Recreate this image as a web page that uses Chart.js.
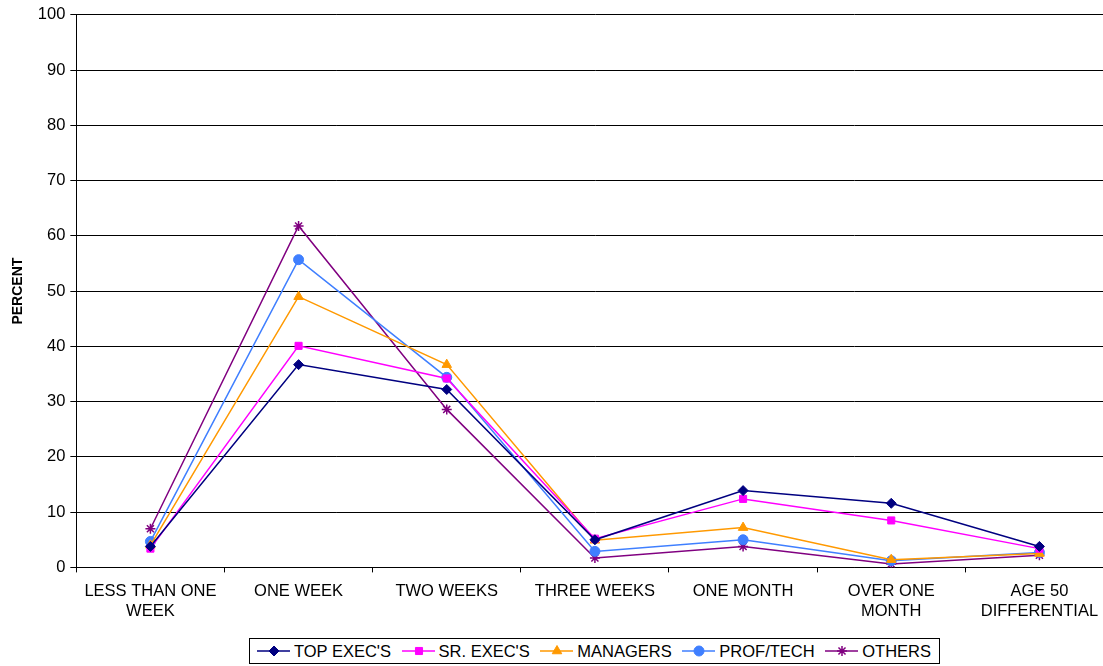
<!DOCTYPE html>
<html><head><meta charset="utf-8">
<script src="https://cdn.jsdelivr.net/npm/chart.js@4/dist/chart.umd.min.js"></script>
<style>
html,body{margin:0;padding:0;background:#fff;overflow:hidden;width:1103px;height:666px;}
#wrap{position:absolute;left:0;top:0;width:1120px;height:666px;}
#legend{position:absolute;left:249px;top:638px;width:674px;height:24px;padding:0 8px 0 7px;border:1px solid #000;background:#fff;
display:flex;align-items:center;justify-content:space-between;font-family:"Liberation Sans",Arial,sans-serif;font-size:16.5px;color:#000;}
.item{display:flex;align-items:center;}
.item canvas{margin-right:3px;}
</style></head><body>
<div id="wrap"><canvas id="c" width="1120" height="666"></canvas></div>
<div id="legend"></div>
<script>
const categories = [["LESS THAN ONE","WEEK"],"ONE WEEK","TWO WEEKS","THREE WEEKS","ONE MONTH",["OVER ONE","MONTH"],["AGE 50","DIFFERENTIAL"]];
const seriesNames = ["TOP EXEC'S","SR. EXEC'S","MANAGERS","PROF/TECH","OTHERS"];
const topExec  = [3.8, 36.7, 32.2, 5.0, 13.9, 11.6, 3.8];
const srExec   = [3.4, 40.1, 34.2, 5.2, 12.4, 8.5, 3.4];
const managers = [4.0, 49.0, 36.7, 4.9, 7.2, 1.4, 2.5];
const profTech = [4.7, 55.7, 34.4, 2.9, 5.0, 1.2, 2.7];
const others   = [7.0, 61.8, 28.6, 1.7, 3.8, 0.6, 2.2];
const yTicks = [0,10,20,30,40,50,60,70,80,90,100];

const colors = ['#000080','#FF00FF','#FF9900','#3F7FFF','#800080'];
const styles = ['rectRot','rect','triangle','circle','star'];
const radii = [5,5,5.5,5,5];
const values = [topExec, srExec, managers, profTech, others];
const font = '"Liberation Sans", Arial, sans-serif';

const datasets = seriesNames.map((n,i)=>({
  label:n, data:values[i], borderColor:colors[i], backgroundColor:colors[i],
  borderWidth:1.5, pointStyle:styles[i], pointRadius:radii[i], pointBorderWidth: styles[i]==='star'?1.5:1,
  pointBackgroundColor:colors[i], pointBorderColor:colors[i], tension:0, fill:false
}));

new Chart(document.getElementById('c'), {
  type:'line',
  data:{labels:categories, datasets},
  options:{
    responsive:false, animation:false, devicePixelRatio:1,
    layout:{padding:{top:4,right:2,left:10,bottom:36}},
    plugins:{legend:{display:false},tooltip:{enabled:false}},
    scales:{
      x:{offset:true,
        grid:{display:true,drawOnChartArea:false,drawTicks:true,tickLength:5,color:'#000',offset:true},
        border:{color:'#000',width:1},
        ticks:{color:'#000',font:{family:font,size:16.5},maxRotation:0,autoSkip:false,padding:9}},
      y:{min:0,max:100,
        afterBuildTicks:(s)=>{s.ticks=yTicks.map(v=>({value:v}));},
        grid:{color:'#000',lineWidth:1,drawTicks:true,tickLength:6,tickColor:'#000'},
        border:{color:'#000',width:1},
        ticks:{color:'#000',font:{family:font,size:16.5},padding:5},
        title:{display:true,text:'PERCENT',color:'#000',font:{family:font,size:14,weight:'bold'},padding:{top:0,bottom:6}}}
    }
  }
});

const lg = document.getElementById('legend');
seriesNames.forEach((n,i)=>{
  const it=document.createElement('span'); it.className='item';
  const cv=document.createElement('canvas'); cv.width=34; cv.height=14;
  const ctx=cv.getContext('2d');
  ctx.strokeStyle=colors[i]; ctx.lineWidth=1.5; ctx.beginPath(); ctx.moveTo(0,7); ctx.lineTo(33,7); ctx.stroke();
  ctx.fillStyle=colors[i]; ctx.lineWidth=styles[i]==='star'?1.5:1;
  Chart.helpers.drawPoint(ctx,{pointStyle:styles[i],radius:radii[i],rotation:0,borderWidth:1},17,7);
  it.appendChild(cv);
  const t=document.createElement('span'); t.textContent=n; it.appendChild(t);
  lg.appendChild(it);
});
</script>
</body></html>
